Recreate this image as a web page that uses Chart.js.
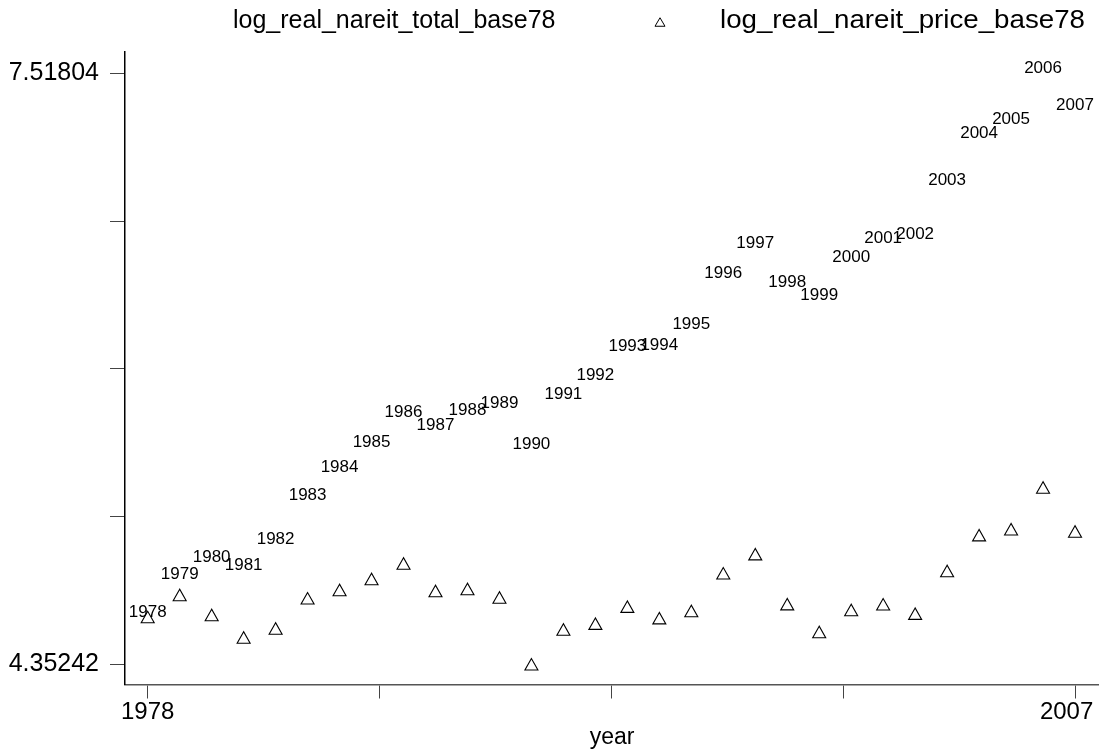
<!DOCTYPE html>
<html>
<head>
<meta charset="utf-8">
<script src="https://cdn.jsdelivr.net/npm/chart.js@4.4.1/dist/chart.umd.min.js"></script>
<style>
  html, body { margin: 0; padding: 0; background: #fff; }
  #wrap { width: 1099px; height: 751px; position: relative; }
</style>
</head>
<body>
<div id="wrap"><canvas id="chart"></canvas></div>
<script>
// data
const years = [1978, 1979, 1980, 1981, 1982, 1983, 1984, 1985, 1986, 1987,
               1988, 1989, 1990, 1991, 1992, 1993, 1994, 1995, 1996, 1997,
               1998, 1999, 2000, 2001, 2002, 2003, 2004, 2005, 2006, 2007];
const totalValues = [4.6052, 4.8082, 4.8977, 4.8564, 4.9957, 5.2325, 5.3808, 5.5137, 5.6754, 5.6031,
                     5.6861, 5.7236, 5.5040, 5.7724, 5.8752, 6.0268, 6.0343, 6.1457, 6.4200, 6.5807,
                     6.3718, 6.3000, 6.5035, 6.6074, 6.6289, 6.9160, 7.1677, 7.2454, 7.5180, 7.3215];
const priceValues = [4.6052, 4.7236, 4.6165, 4.4960, 4.5442, 4.7059, 4.7504, 4.8093, 4.8923, 4.7450,
                     4.7557, 4.7102, 4.3524, 4.5388, 4.5699, 4.6609, 4.5993, 4.6379, 4.8398, 4.9421,
                     4.6743, 4.5254, 4.6433, 4.6738, 4.6234, 4.8522, 5.0439, 5.0760, 5.2994, 5.0637];
const seriesNames = ['log_real_nareit_total_base78', 'log_real_nareit_price_base78'];
const xTickValues = [1978, 1985.25, 1992.5, 1999.75, 2007];
const xTickLabels = ['1978', '', '', '', '2007'];
const yTickValues = [4.35242, 5.143825, 5.93523, 6.726635, 7.51804];
const yTickLabels = ['4.35242', '', '', '', '7.51804'];
const xTitle = 'year';

const FONT = "'Liberation Sans', Arial, sans-serif";

// hollow triangle centred on its bounding box, like Stata's marker
function strokeTriangle(ctx, x, y, w, h, lw) {
    ctx.save();
    ctx.strokeStyle = '#000';
    ctx.lineWidth = lw;
    ctx.beginPath();
    ctx.moveTo(x, y - h / 2);
    ctx.lineTo(x - w / 2, y + h / 2);
    ctx.lineTo(x + w / 2, y + h / 2);
    ctx.closePath();
    ctx.stroke();
    ctx.restore();
}

// year labels on the first series, triangles on the second
const markers = {
    id: 'markers',
    afterDatasetsDraw(chart) {
        const ctx = chart.ctx;
        const labelMeta = chart.getDatasetMeta(0);
        ctx.save();
        ctx.font = '17px ' + FONT;
        ctx.fillStyle = '#000';
        ctx.textAlign = 'center';
        ctx.textBaseline = 'middle';
        labelMeta.data.forEach((pt, i) => {
            ctx.fillText(String(years[i]), pt.x, pt.y - 5);
        });
        ctx.restore();

        const triMeta = chart.getDatasetMeta(1);
        triMeta.data.forEach(pt => {
            strokeTriangle(ctx, pt.x, pt.y, 13, 11.5, 1.1);
        });
    }
};

// legend along the top, the first key has no symbol
const topLegend = {
    id: 'topLegend',
    afterDraw(chart) {
        const ctx = chart.ctx;
        ctx.save();
        ctx.font = '25px ' + FONT;
        ctx.fillStyle = '#000';
        ctx.textAlign = 'left';
        ctx.textBaseline = 'middle';
        ctx.fillText(seriesNames[0], 233, 21);
        // second key is set a little wider in the original
        const w = ctx.measureText(seriesNames[1]).width;
        ctx.translate(720, 21);
        ctx.scale(365 / w, 1);
        ctx.fillText(seriesNames[1], 0, 0);
        ctx.restore();
        strokeTriangle(ctx, 660, 22, 10, 8.5, 1);
    }
};

const ctx = document.getElementById('chart').getContext('2d');
new Chart(ctx, {
    type: 'scatter',
    data: {
        datasets: [
            {
                label: seriesNames[0],
                data: years.map((y, i) => ({ x: y, y: totalValues[i] })),
                pointRadius: 0,
                pointHoverRadius: 0
            },
            {
                label: seriesNames[1],
                data: years.map((y, i) => ({ x: y, y: priceValues[i] })),
                pointRadius: 0,
                pointHoverRadius: 0
            }
        ]
    },
    options: {
        responsive: true,
        maintainAspectRatio: false,
        animation: false,
        events: [],
        layout: { padding: { top: 52, right: 0, bottom: 0, left: 0 } },
        plugins: {
            legend: { display: false },
            tooltip: { enabled: false }
        },
        scales: {
            x: {
                type: 'linear',
                min: 1977.29,
                max: 2007.75,
                afterBuildTicks(scale) { scale.ticks = xTickValues.map(v => ({ value: v })); },
                afterFit(scale) {
                    scale.height = 66.5;
                    scale.paddingLeft = 0;
                    scale.paddingRight = 0;
                },
                ticks: {
                    autoSkip: false,
                    maxRotation: 0,
                    padding: -1,
                    color: '#000',
                    font: { family: FONT, size: 24 },
                    // last label nudged left so it stays inside the picture
                    callback: (v, i) => i === xTickLabels.length - 1 ? xTickLabels[i] + '\u2002\u2009' : xTickLabels[i]
                },
                grid: { drawOnChartArea: false, drawTicks: true, tickLength: 14, color: '#444', tickWidth: 1 },
                border: { display: true, color: '#555', width: 1.5 },
                title: {
                    display: true,
                    text: xTitle,
                    color: '#000',
                    font: { family: FONT, size: 23, lineHeight: 1.2 },
                    padding: { top: 0, bottom: 0 }
                }
            },
            y: {
                type: 'linear',
                min: 4.244,
                max: 7.632,
                afterBuildTicks(scale) { scale.ticks = yTickValues.map(v => ({ value: v })); },
                afterFit(scale) { scale.width = 125; },
                ticks: {
                    autoSkip: false,
                    padding: 11,
                    color: '#000',
                    font: { family: FONT, size: 25 },
                    callback: (v, i) => yTickLabels[i]
                },
                grid: { drawOnChartArea: false, drawTicks: true, tickLength: 15, color: '#444', tickWidth: 1 },
                border: { display: true, color: '#000', width: 1.5 }
            }
        }
    },
    plugins: [markers, topLegend]
});
</script>
</body>
</html>
